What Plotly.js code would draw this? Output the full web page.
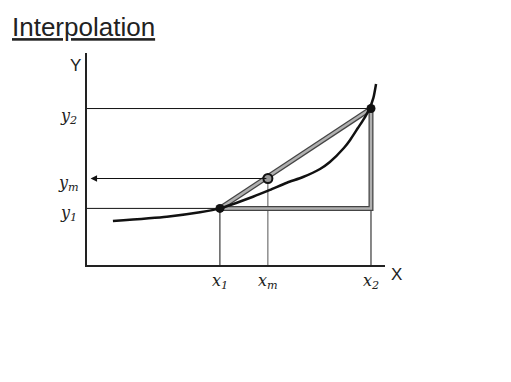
<!DOCTYPE html>
<html>
<head>
<meta charset="utf-8">
<script src="https://cdn.plot.ly/plotly-3.0.1.min.js"></script>
<style>html,body{margin:0;padding:0;background:#fff;}#chart{width:511px;height:382px;}</style>
</head>
<body>
<div id="chart"></div>
<script>
// Known points (x1, xm, x2) and their values (y1, ym, y2)
var pointLabelsX = ["x<sub>1</sub>", "x<sub>m</sub>", "x<sub>2</sub>"];
var pointLabelsY = ["y<sub>1</sub>", "y<sub>m</sub>", "y<sub>2</sub>"];
var pointX = [4.46, 6.07, 9.53];
var pointY = [2.67, 4.08, 7.38];
// True (curved) function
var curveX = [0.87, 2.68, 3.79, 4.46, 5.57, 6.14, 6.71, 7.25, 7.82, 8.15, 8.62, 8.83, 9.09, 9.33, 9.48, 9.61, 9.70];
var curveY = [2.08, 2.28, 2.49, 2.67, 3.22, 3.54, 3.88, 4.15, 4.53, 4.86, 5.52, 5.90, 6.46, 6.98, 7.38, 7.88, 8.54];
var axisNames = ["X", "Y"];
var titleText = "Interpolation";

var x1 = pointX[0], xm = pointX[1], x2 = pointX[2];
var y1 = pointY[0], ym = pointY[1], y2 = pointY[2];

function seg(xs, ys, color, width) {
  return {x: xs, y: ys, mode: 'lines', type: 'scatter', hoverinfo: 'skip',
          line: {color: color, width: width}, showlegend: false, cliponaxis: false};
}

var traces = [
  // thin guide lines
  seg([0, x2], [y2, y2], '#111', 1),
  seg([0, x1], [y1, y1], '#111', 1),
  seg([x1, x1], [0, y1], '#111', 1),
  seg([xm, xm], [0, ym], '#555', 1),
  seg([x2, x2], [0, y1], '#111', 1),
  // thick grey interpolation triangle (dark edge + light fill)
  seg([x1, x2, x2], [y1, y1, y2], '#444', 5),
  seg([x1, x2, x2], [y1, y1, y2], '#b0b0b0', 2.5),
  seg([x1, x2], [y1, y2], '#444', 5),
  seg([x1, x2], [y1, y2], '#b0b0b0', 2.5),
  // curve
  {x: curveX, y: curveY, mode: 'lines', type: 'scatter', hoverinfo: 'skip', showlegend: false,
   line: {color: '#111', width: 2.5, shape: 'spline', smoothing: 0.6}, cliponaxis: false},
  // points
  {x: [x1, x2], y: [y1, y2], mode: 'markers', type: 'scatter', showlegend: false, cliponaxis: false,
   marker: {color: '#111', size: 9}},
  {x: [xm], y: [ym], mode: 'markers', type: 'scatter', showlegend: false, cliponaxis: false,
   marker: {color: '#999', size: 9, line: {color: '#111', width: 2}}}
];

var lblFont = {family: 'DejaVu Serif', size: 16, color: '#222'};
var axFont = {family: 'Liberation Sans', size: 17, color: '#222'};
var annotations = [
  {x: 0.12, y: ym, ax: xm, ay: ym, xref: 'x', yref: 'y', axref: 'x', ayref: 'y',
   showarrow: true, arrowhead: 2, arrowsize: 1.3, arrowwidth: 1, arrowcolor: '#111', text: '', standoff: 0},
  {x: 0, xshift: -12, y: 1, yshift: -12, xref: 'paper', yref: 'paper', xanchor: 'center', yanchor: 'middle',
   text: axisNames[1], showarrow: false, font: axFont},
  {x: 1, xshift: 11, y: 0, yshift: -9, xref: 'paper', yref: 'paper', xanchor: 'center', yanchor: 'middle',
   text: axisNames[0], showarrow: false, font: axFont}
];
var yShifts = [-5, -5, -8];
for (var i = 0; i < 3; i++) {
  annotations.push({x: pointX[i], y: 0, yshift: -16, xref: 'x', yref: 'paper', xanchor: 'center', yanchor: 'middle',
    text: '<i>' + pointLabelsX[i] + '</i>', showarrow: false, font: lblFont});
  annotations.push({x: 0, xshift: -19, y: pointY[i], yshift: yShifts[i], xref: 'paper', yref: 'y',
    xanchor: 'center', yanchor: 'middle',
    text: '<i>' + pointLabelsY[i] + '</i>', showarrow: false, font: lblFont});
}

var layout = {
  width: 511, height: 382,
  margin: {l: 87, r: 126, t: 53, b: 117},
  paper_bgcolor: '#fff', plot_bgcolor: '#fff',
  showlegend: false,
  title: {text: '<u>' + titleText + '</u>', xref: 'container', yref: 'container',
          x: 12 / 511, xanchor: 'left', y: 1 - 27 / 382, yanchor: 'middle',
          font: {family: 'Liberation Sans', size: 26, color: '#222'}},
  xaxis: {range: [0, 10], showline: true, linecolor: '#222', linewidth: 2,
          showgrid: false, zeroline: false, showticklabels: false, ticks: '', fixedrange: true},
  yaxis: {range: [0, 10], showline: true, linecolor: '#222', linewidth: 2,
          showgrid: false, zeroline: false, showticklabels: false, ticks: '', fixedrange: true},
  annotations: annotations
};

Plotly.newPlot('chart', traces, layout, {staticPlot: true, displayModeBar: false});
</script>
</body>
</html>
